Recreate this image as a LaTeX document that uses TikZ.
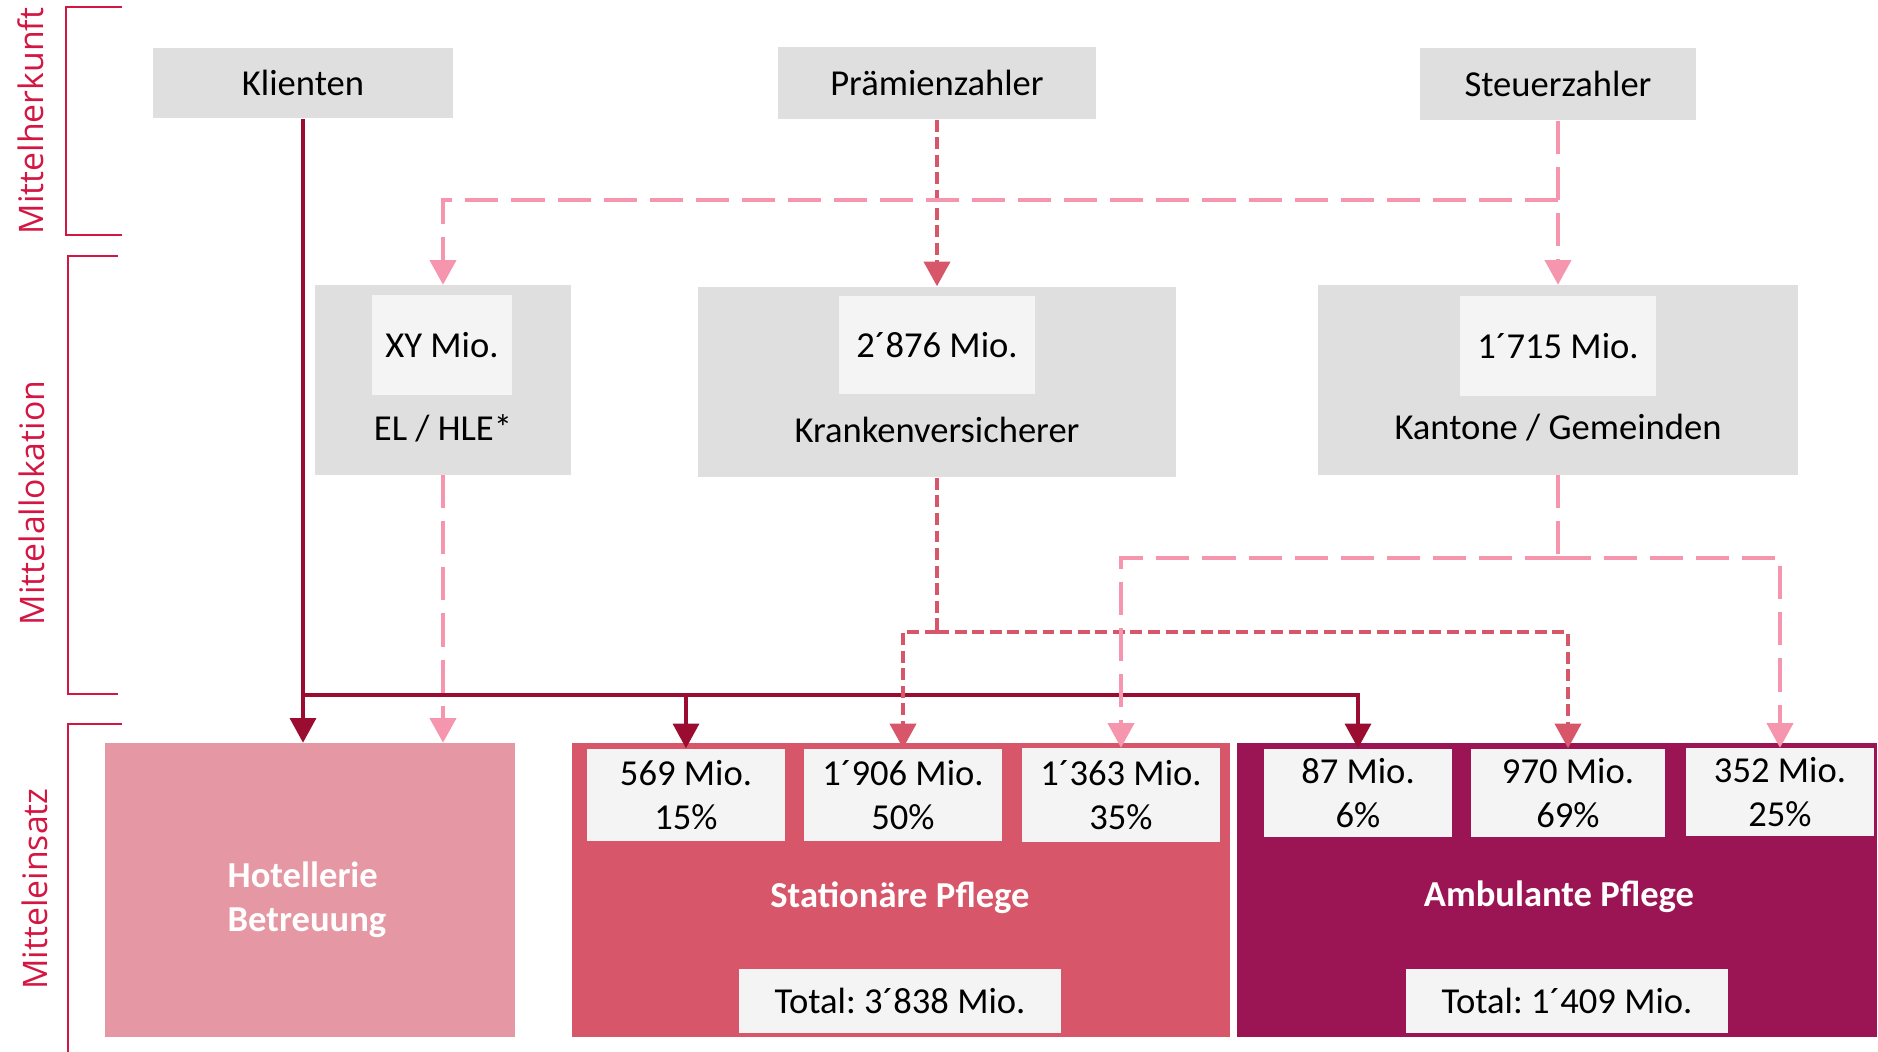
\documentclass[tikz,border=0pt]{standalone}
\usepackage{fontspec}
\setmainfont{Carlito}
\newfontfamily\sidefont{Open Sans}
\usetikzlibrary{arrows.meta}
\frenchspacing

\begin{document}
\begin{tikzpicture}[x=0.01cm,y=-0.01cm]
\definecolor{boxcolor}{RGB}{223,223,223}
\definecolor{valuecolor}{RGB}{244,244,244}
\definecolor{hotelcolor}{RGB}{230,151,164}
\definecolor{statcolor}{RGB}{215,86,105}
\definecolor{ambcolor}{RGB}{155,20,83}
\definecolor{clientcolor}{RGB}{155,13,48}
\definecolor{premiumcolor}{RGB}{215,86,105}
\definecolor{taxcolor}{RGB}{245,150,174}
\definecolor{bracketcolor}{RGB}{212,22,66}
\tikzset{
  txt/.style={inner sep=0pt,font=\fontsize{10.4}{12.6}\selectfont},
  srcbox/.style={txt,fill=boxcolor},
  valuebox/.style={txt,fill=valuecolor,align=center},
  areabox/.style={inner sep=0pt},
  areatext/.style={inner sep=0pt,text=white,font=\fontsize{10.4}{12.6}\selectfont\bfseries},
  sidetext/.style={inner sep=0pt,rotate=90,text=bracketcolor,font=\sidefont\fontsize{9.6}{11}\selectfont},
  bracket/.style={bracketcolor,line width=0.7pt},
  clientline/.style={line width=0.9pt,clientcolor,-{Triangle[width=7.4pt,length=7pt]}},
  premiumline/.style={line width=1.1pt,premiumcolor,dash pattern=on 3.4pt off 1.6pt,-{Triangle[width=7.4pt,length=7pt]}},
  taxline/.style={line width=1.1pt,taxcolor,dash pattern=on 9.4pt off 3.7pt,-{Triangle[width=7.4pt,length=7pt]}},
}
\useasboundingbox (0,0) rectangle (1878,1052);

\draw [bracket] (122,7) -- (66,7) -- (66,235) -- (122,235);
\draw [bracket] (118,256) -- (68,256) -- (68,694) -- (118,694);
\draw [bracket] (122,724) -- (68,724) -- (68,1052);
\node [sidetext] (herkunft) at (31,121) {Mittelherkunft};
\node [sidetext] (allokation) at (32,503) {Mittelallokation};
\node [sidetext] (einsatz) at (35,889) {Mitteleinsatz};

\node [srcbox,minimum width=3.00cm,minimum height=0.70cm] (klienten) at (303,83) {Klienten};
\node [srcbox,minimum width=3.17cm,minimum height=0.72cm] (praemien) at (937,83) {Prämienzahler};
\node [srcbox,minimum width=2.76cm,minimum height=0.72cm] (steuer) at (1558,84) {Steuerzahler};

\node [srcbox,minimum width=2.55cm,minimum height=1.89cm] (elhle) at (443,380) {};
\node [valuebox,minimum width=1.40cm,minimum height=0.99cm] (elhlebetrag) at (442,345) {XY Mio.};
\node [txt] (elhlename) at (443,428) {EL / HLE*};
\node [srcbox,minimum width=4.78cm,minimum height=1.90cm] (kv) at (937,382) {};
\node [valuebox,minimum width=1.96cm,minimum height=0.97cm] (kvbetrag) at (937,345) {2´876 Mio.};
\node [txt] (kvname) at (937,430) {Krankenversicherer};
\node [srcbox,minimum width=4.79cm,minimum height=1.89cm] (kant) at (1558,380) {};
\node [valuebox,minimum width=1.96cm,minimum height=0.99cm] (kantbetrag) at (1558,346) {1´715 Mio.};
\node [txt] (kantname) at (1558,428) {Kantone / Gemeinden};

\node [areabox,fill=hotelcolor,minimum width=4.10cm,minimum height=2.93cm] (hotel) at (310,890) {};
\node [areatext,align=left] (hotelname) at (307,900) {Hotellerie\\Betreuung};

\node [areabox,fill=statcolor,minimum width=6.57cm,minimum height=2.93cm] (stat) at (901,890) {};
\node [valuebox,minimum width=1.98cm,minimum height=0.92cm] (stat1) at (686,795) {569 Mio.\\15\%};
\node [valuebox,minimum width=1.98cm,minimum height=0.92cm] (stat2) at (903,795) {1´906 Mio.\\50\%};
\node [valuebox,minimum width=1.98cm,minimum height=0.93cm] (stat3) at (1121,795) {1´363 Mio.\\35\%};
\node [areatext] (statname) at (900,898) {Stationäre Pflege};
\node [valuebox,minimum width=3.21cm,minimum height=0.64cm] (stattotal) at (900,1001) {Total: 3´838 Mio.};

\node [areabox,fill=ambcolor,minimum width=6.40cm,minimum height=2.93cm] (amb) at (1557,890) {};
\node [valuebox,minimum width=1.88cm,minimum height=0.88cm] (amb1) at (1358,793) {87 Mio.\\6\%};
\node [valuebox,minimum width=1.94cm,minimum height=0.88cm] (amb2) at (1568,793) {970 Mio.\\69\%};
\node [valuebox,minimum width=1.88cm,minimum height=0.87cm] (amb3) at (1780,792) {352 Mio.\\25\%};
\node [areatext] (ambname) at (1559,897) {Ambulante Pflege};
\node [valuebox,minimum width=3.21cm,minimum height=0.64cm] (ambtotal) at (1567,1001) {Total: 1´409 Mio.};

\coordinate (clientsplit) at (303,695);
\draw [clientline] (klienten.south) -- (klienten.south |- hotel.north);
\draw [clientline] (clientsplit) -| (stat1.north);
\draw [clientline] (clientsplit) -| (amb1.north);

\coordinate (kvsplit) at (937,632);
\draw [premiumline] (praemien.south) -- (kv.north);
\draw [premiumline,-] (kv.south) -- (kvsplit);
\draw [premiumline] (kvsplit) -| (stat2.north);
\draw [premiumline] (kvsplit) -| (amb2.north);

\coordinate (taxsplit) at (1558,200);
\coordinate (kantsplit) at (1558,558);
\draw [taxline] (steuer.south) -- (kant.north);
\draw [taxline] (taxsplit) -| (elhle.north);
\draw [taxline] (elhle.south) -- (elhle.south |- hotel.north);
\draw [taxline,-] (kant.south) -- (kantsplit);
\draw [taxline] (kantsplit) -| (stat3.north);
\draw [taxline] (kantsplit) -| (amb3.north);
\end{tikzpicture}
\end{document}
